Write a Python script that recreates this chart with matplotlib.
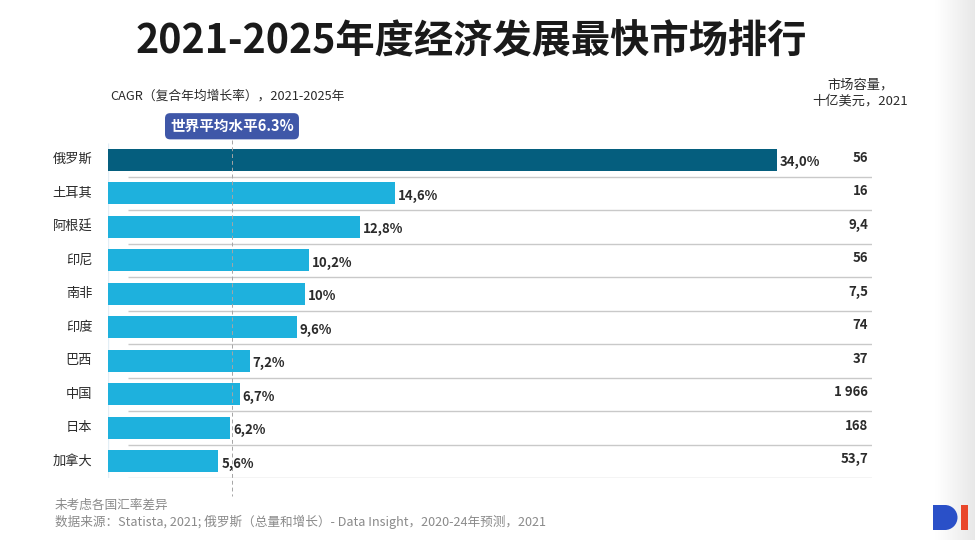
import numpy as np
import matplotlib
matplotlib.use('Agg')
import matplotlib.pyplot as plt
from matplotlib.patches import Rectangle, Wedge
from matplotlib.transforms import blended_transform_factory

plt.rcParams['font.family'] = ['Noto Sans CJK SC', 'DejaVu Sans']

# data
countries = ['俄罗斯', '土耳其', '阿根廷', '印尼', '南非', '印度', '巴西', '中国', '日本', '加拿大']
cagr = [34.0, 14.6, 12.8, 10.2, 10.0, 9.6, 7.2, 6.7, 6.2, 5.6]
cagr_labels = ['34,0%', '14,6%', '12,8%', '10,2%', '10%', '9,6%', '7,2%', '6,7%', '6,2%', '5,6%']
market_size = ['56', '16', '9,4', '56', '7,5', '74', '37', '1 966', '168', '53,7']
world_avg = 6.3

W, H = 975, 540
DARK = '#055e7e'
LIGHT = '#1eb1dd'
BADGE = '#3f57a8'
TXT = '#2b2b2b'

fig = plt.figure(figsize=(W / 100, H / 100), dpi=100)
fig.patch.set_facecolor('white')

def fx(px): return px / W
def fy(py): return 1 - py / H

# main axes: x 108..872 px, rows 143..478 px
ax = fig.add_axes([fx(108), fy(478), fx(872) - fx(108), fy(143) - fy(478)])
xmax = (872 - 108) / 19.68
ax.set_xlim(0, xmax)
ax.set_ylim(len(countries) - 0.5, -0.5)
ax.axis('off')

y = np.arange(len(countries))
colors = [DARK] + [LIGHT] * (len(countries) - 1)
ax.barh(y, cagr, height=0.66, color=colors, zorder=2)

# row separators
ax.hlines(y + 0.5, 1.0, xmax, color='#c9c9c9', lw=1.0, zorder=1)
# faint left edge
ax.vlines(0, -0.5, len(countries) - 0.5, color='#e3eef5', lw=1.0, zorder=1)

# world average line
ax.plot([world_avg, world_avg], [-0.6, 10.05], ls=(0, (4, 3)), color='#a5a5a5',
        lw=0.7, clip_on=False, zorder=3)
ax.text(world_avg, -1.0, f'世界平均水平{world_avg}%', ha='center', va='center',
        color='white', fontsize=10.5, fontweight='bold', clip_on=False,
        bbox=dict(boxstyle='round,pad=0.35,rounding_size=0.35', fc=BADGE, ec='none'))

for yi, v, lab in zip(y, cagr, cagr_labels):
    ax.text(v + 0.15, yi + 0.08, lab, ha='left', va='center', fontsize=9.5,
            fontweight='bold', color=TXT)
    ax.text(-0.8, yi, countries[yi], ha='right', va='center', fontsize=9.5, color=TXT)

tr = blended_transform_factory(ax.transAxes, ax.transData)
for yi, m in zip(y, market_size):
    ax.text(0.995, yi - 0.06, m, transform=tr, ha='right', va='center',
            fontsize=9.5, fontweight='bold', color=TXT)

# titles
fig.text(fx(471), fy(42), '2021-2025年度经济发展最快市场排行', ha='center', va='center',
         fontsize=28.3, fontweight='bold', color='#1a1a1a')
fig.text(fx(110), fy(96), 'CAGR（复合年均增长率），2021-2025年', ha='left', va='center',
         fontsize=9.2, color=TXT)
fig.text(fx(860), fy(93), '市场容量，\n十亿美元，2021', ha='center', va='center',
         fontsize=9.5, color=TXT, linespacing=1.3)

# footnotes
fig.text(fx(55), fy(505), '未考虑各国汇率差异', ha='left', va='center',
         fontsize=9.1, color='#8a8a8a')
fig.text(fx(55), fy(522), '数据来源：Statista, 2021; 俄罗斯（总量和增长）- Data Insight，2020-24年预测，2021',
         ha='left', va='center', fontsize=9.1, color='#8a8a8a')

# right edge shading + logo
ov = fig.add_axes([0, 0, 1, 1], zorder=-1)
ov.set_xlim(0, W); ov.set_ylim(H, 0); ov.axis('off')
grad = np.linspace(1.0, 0.91, 64)[None, :]
ov.imshow(np.repeat(grad, 2, axis=0), extent=(935, W, H, 0), cmap='gray',
          vmin=0, vmax=1, aspect='auto', interpolation='bicubic')

lg = fig.add_axes([0, 0, 1, 1], zorder=5)
lg.set_xlim(0, W); lg.set_ylim(H, 0); lg.axis('off')
lg.add_patch(Rectangle((933, 505), 12, 25, color='#2a50c8', lw=0))
lg.add_patch(Wedge((945, 517.5), 12.5, -90, 90, color='#2a50c8', lw=0))
lg.add_patch(Rectangle((961, 505), 7, 25, color='#e9472b', lw=0))

fig.savefig('out.png', dpi=100, facecolor='white')
